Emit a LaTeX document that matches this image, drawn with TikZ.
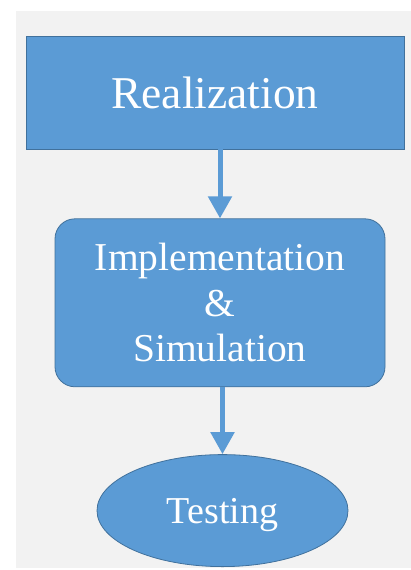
\documentclass[tikz,border=0pt]{standalone}
\usepackage{fontspec}
\setmainfont{Liberation Serif}
\usepackage{xcolor}
\usepackage{tikz}
\usetikzlibrary{positioning}
\usetikzlibrary{shapes.geometric}
\usetikzlibrary{arrows.meta}
\definecolor{boxblue}{HTML}{5B9BD5}
\definecolor{edgeblue}{HTML}{41719C}
\definecolor{backgray}{HTML}{F2F2F2}
\tikzset{>={Triangle[width=23pt,length=22pt]}}
\tikzset{block/.style={draw=edgeblue,line width=0.8pt,fill=boxblue,text=white,align=center,inner sep=0pt}}

\begin{document}
\begin{tikzpicture}[x=1pt,y=-1pt]
        \useasboundingbox (0,0) rectangle (411,570);
        \fill [backgray] (16,11) rectangle (411,568);
        \node (real) [block,rectangle,minimum width=378pt,minimum height=113pt,font=\fontsize{45.5}{52}\selectfont] at (215,92.5) {Realization};
        \node (impl) [block,rectangle,rounded corners=20pt,minimum width=330pt,minimum height=168pt,font=\fontsize{39.5}{45.5}\selectfont,below=69pt of real,xshift=5pt] {Implementation\\\&\\Simulation};
        \node (test) [block,ellipse,minimum width=251pt,minimum height=112pt,text depth=0pt,font=\fontsize{38}{45}\selectfont,below=67pt of impl,xshift=2.5pt] {Testing};
        \draw [->,boxblue,line width=5pt] (impl.north |- real.south) -- (impl.north);
        \draw [->,boxblue,line width=5pt] (test.north |- impl.south) -- (test.north);
    \end{tikzpicture}
\end{document}
